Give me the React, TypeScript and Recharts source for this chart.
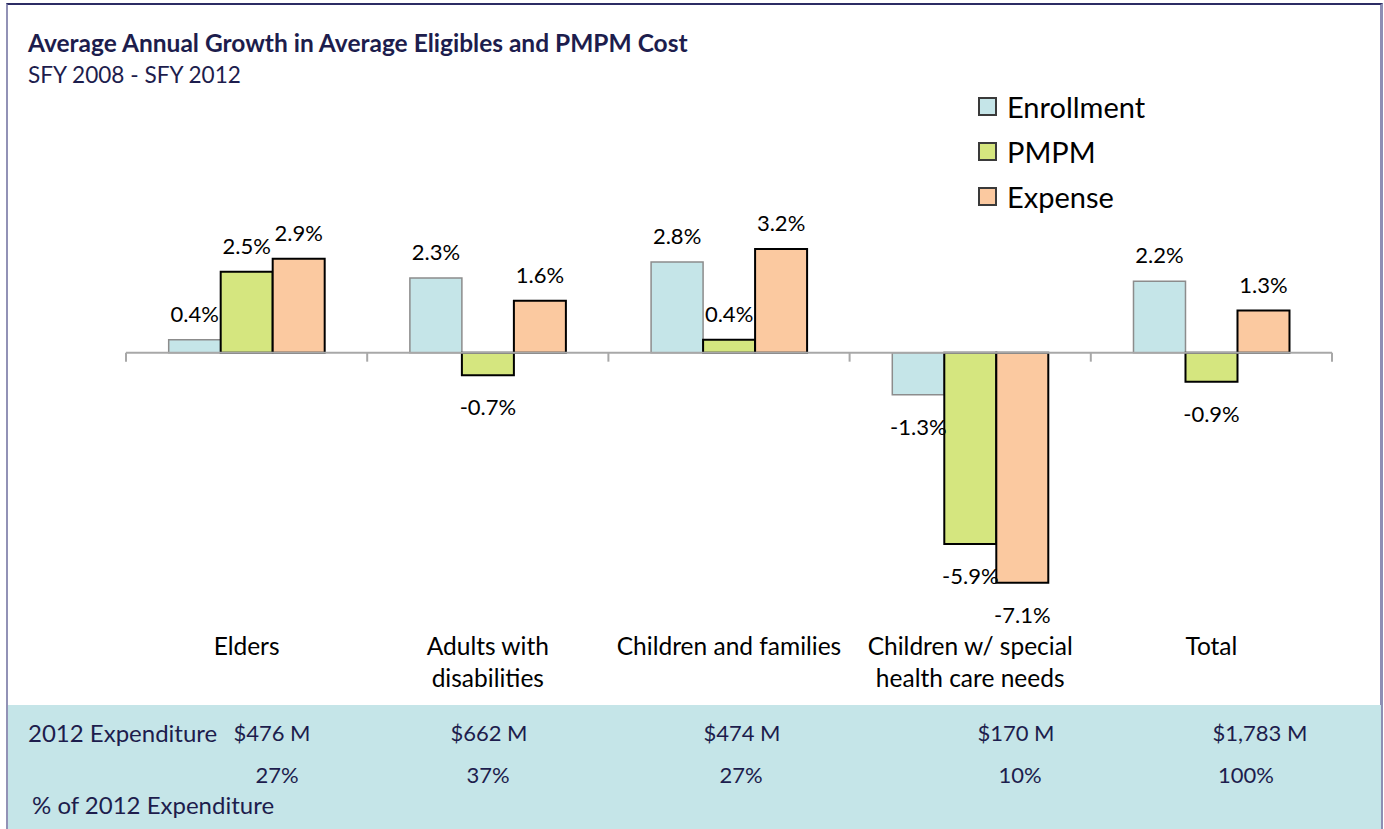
import { BarChart, Bar, XAxis, YAxis, ReferenceLine, LabelList, Legend } from "recharts";

const FONT = "Lato, 'Liberation Sans', sans-serif";
const INK = "#1d1d4d";

const categories = [
  "Elders",
  "Adults with\ndisabilities",
  "Children and families",
  "Children w/ special\nhealth care needs",
  "Total",
];
const seriesNames = ["Enrollment", "PMPM", "Expense"];
const enrollment = [0.4, 2.3, 2.8, -1.3, 2.2];
const pmpm = [2.5, -0.7, 0.4, -5.9, -0.9];
const expense = [2.9, 1.6, 3.2, -7.1, 1.3];
const yTicks = [-8, -6, -4, -2, 0, 2, 4];

const expenditure = ["$476 M", "$662 M", "$474 M", "$170 M", "$1,783 M"];
const expenditureShare = ["27%", "37%", "27%", "10%", "100%"];

// text box placement of the table under the chart (not chart marks)
const amountCenters = [272, 489, 742, 1016, 1260];
const shareCenters = [277, 488, 741, 1020, 1246];

const data = categories.map((c, i) => ({
  category: c,
  Enrollment: enrollment[i],
  PMPM: pmpm[i],
  Expense: expense[i],
}));

const CategoryTick = ({ x, y, payload }: any) => {
  const lines = String(payload.value).split("\n");
  return (
    <g>
      {lines.map((line, i) => (
        <text key={i} x={x} y={y + 35 + i * 32} textAnchor="middle" fontSize={24.5} fontFamily={FONT} fill="#000">
          {line}
        </text>
      ))}
    </g>
  );
};

// zero line with tick marks at the category boundaries
const ZeroAxis = (props: any) => {
  const { x1, y1, x2, y2 } = props;
  const n = categories.length;
  const step = (x2 - x1) / n;
  const marks = Array.from({ length: n + 1 }, (_, i) => x1 + i * step);
  return (
    <g>
      <line x1={x1} y1={y1} x2={x2} y2={y2} stroke="#a8a8a8" strokeWidth={2} />
      {marks.map((m) => (
        <line key={m} x1={m} x2={m} y1={y1} y2={y1 + 9} stroke="#a8a8a8" strokeWidth={2} />
      ))}
    </g>
  );
};

const ValueLabel = (props: any) => {
  const { x, y, width, height, value } = props;
  const v = Number(value);
  const top = Math.min(y, y + height);
  const bottom = Math.max(y, y + height);
  const ty = v >= 0 ? top - 18 : bottom + 40;
  return (
    <text x={x + width / 2} y={ty} textAnchor="middle" fontSize={22} fontFamily={FONT} fill="#000">
      {v.toFixed(1)}%
    </text>
  );
};

const LegendBox = ({ payload }: any) => {
  const items = [...(payload || [])].sort(
    (a: any, b: any) => seriesNames.indexOf(a.value) - seriesNames.indexOf(b.value)
  );
  return (
    <div>
      {items.map((p: any) => (
        <div key={p.value} style={{ display: "flex", alignItems: "center", height: 45 }}>
          <span
            style={{
              display: "inline-block",
              width: 15,
              height: 15,
              background: p.color,
              border: "2px solid #3a3a3a",
              marginRight: 10,
            }}
          />
          <span style={{ fontFamily: FONT, fontSize: 29, color: "#000" }}>{p.value}</span>
        </div>
      ))}
    </div>
  );
};

export default function App() {
  return (
    <div style={{ position: "absolute", left: 0, top: 0, width: 1384, height: 829, background: "#fff", overflow: "hidden" }}>
      <div
        style={{
          position: "absolute",
          left: 6,
          top: 3,
          width: 1372,
          height: 830,
          borderTop: "2px solid #2c2c64",
          borderLeft: "2px solid #9292b6",
          borderRight: "3px solid #8e8eb4",
        }}
      />
      <div style={{ position: "absolute", left: 8, top: 705, width: 1373, height: 124, background: "#c5e5e8" }} />
      <div style={{ position: "absolute", left: 28, top: 28, fontFamily: FONT, fontWeight: 700, fontSize: 24.5, color: INK }}>
        Average Annual Growth in Average Eligibles and PMPM Cost
      </div>
      <div style={{ position: "absolute", left: 28, top: 61, fontFamily: FONT, fontSize: 22.6, color: INK }}>
        SFY 2008 - SFY 2012
      </div>

      <div style={{ position: "absolute", left: 0, top: 0 }}>
        <BarChart
          width={1384}
          height={829}
          data={data}
          margin={{ top: 223, right: 52, bottom: 147, left: 126 }}
          barCategoryGap="17.7%"
          barGap={0}
        >
          <XAxis
            dataKey="category"
            axisLine={false}
            tickLine={false}
            height={70}
            interval={0}
            tick={<CategoryTick />}
          />
          <YAxis hide domain={[-8, 4]} ticks={yTicks} width={0} />
          <Legend
            layout="vertical"
            align="center"
            verticalAlign="middle"
            wrapperStyle={{ left: 978, top: 84, width: 220 }}
            content={<LegendBox />}
          />
          <Bar dataKey="Enrollment" fill="#c5e5e8" stroke="#8c8c8c" strokeWidth={1.5} isAnimationActive={false}>
            <LabelList dataKey="Enrollment" content={<ValueLabel />} />
          </Bar>
          <Bar dataKey="PMPM" fill="#d5e67f" stroke="#000" strokeWidth={2} isAnimationActive={false}>
            <LabelList dataKey="PMPM" content={<ValueLabel />} />
          </Bar>
          <Bar dataKey="Expense" fill="#fbc9a0" stroke="#000" strokeWidth={2} isAnimationActive={false}>
            <LabelList dataKey="Expense" content={<ValueLabel />} />
          </Bar>
          <ReferenceLine y={0} shape={<ZeroAxis />} />
        </BarChart>
      </div>

      <div style={{ position: "absolute", left: 28, top: 718, fontFamily: FONT, fontSize: 24, color: INK }}>
        2012 Expenditure
      </div>
      {expenditure.map((t, i) => (
        <div
          key={t}
          style={{
            position: "absolute",
            left: amountCenters[i] - 80,
            width: 160,
            textAlign: "center",
            top: 719,
            fontFamily: FONT,
            fontSize: 22,
            color: INK,
          }}
        >
          {t}
        </div>
      ))}
      {expenditureShare.map((t, i) => (
        <div
          key={i}
          style={{
            position: "absolute",
            left: shareCenters[i] - 80,
            width: 160,
            textAlign: "center",
            top: 761,
            fontFamily: FONT,
            fontSize: 22,
            color: INK,
          }}
        >
          {t}
        </div>
      ))}
      <div style={{ position: "absolute", left: 32, top: 790, fontFamily: FONT, fontSize: 24, color: INK }}>
        % of 2012 Expenditure
      </div>
    </div>
  );
}
